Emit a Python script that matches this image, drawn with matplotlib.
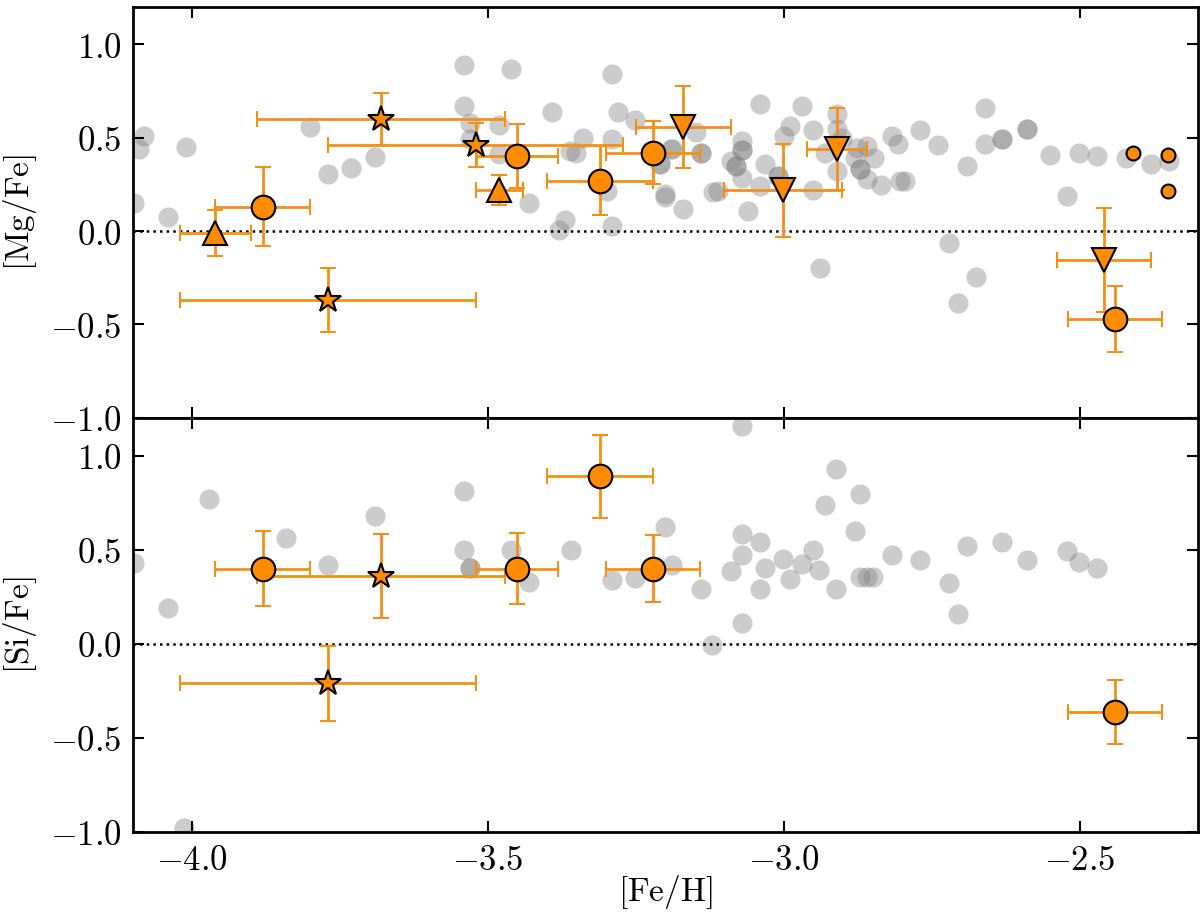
import matplotlib
matplotlib.use('Agg')
import matplotlib.pyplot as plt
from matplotlib.ticker import FuncFormatter, MultipleLocator

plt.rcParams['mathtext.fontset'] = 'cm'
plt.rcParams['font.family'] = 'serif'
plt.rcParams['font.serif'] = ['DejaVu Serif']

# comparison sample (grey), [Mg/Fe]
mg_ref_feh = [-3.541, -3.461, -3.291, -3.541, -3.391, -3.281, -3.801, -3.531, -3.481, -3.251,
              -4.081, -4.090, -4.011, -3.531, -3.340, -3.291, -3.481, -3.361, -3.352, -3.189,
              -3.210, -3.691, -3.731, -3.771, -3.299, -3.201, -3.201, -3.171, -4.098, -4.041,
              -3.430, -3.370, -3.380, -3.291,
              -3.040, -2.970, -2.910, -2.990, -2.999, -2.951, -2.910, -3.149, -3.190, -3.140,
              -3.140, -3.071, -3.071, -3.071, -3.209, -3.090, -3.081, -3.081, -3.031, -3.071,
              -3.010, -3.010, -2.930, -2.901, -2.877, -2.859, -2.880, -2.847, -2.910, -2.871,
              -2.871, -2.859, -2.835, -2.803, -2.795, -2.817, -2.807, -2.770, -2.740, -2.690,
              -2.660, -2.660, -2.631, -2.631, -2.589, -2.589, -2.550, -2.501, -2.470, -2.422,
              -2.380, -2.349, -2.521, -3.060, -3.120, -3.112, -3.040, -2.951, -2.720, -2.939,
              -2.675, -2.705]
mg_ref_val = [0.888, 0.868, 0.841, 0.668, 0.638, 0.638, 0.558, 0.579, 0.567, 0.592,
              0.508, 0.437, 0.449, 0.494, 0.499, 0.490, 0.410, 0.428, 0.419, 0.437,
              0.357, 0.398, 0.339, 0.307, 0.214, 0.196, 0.180, 0.116, 0.148, 0.075,
              0.148, 0.057, 0.003, 0.027,
              0.677, 0.668, 0.624, 0.561, 0.508, 0.538, 0.547, 0.529, 0.437, 0.419,
              0.419, 0.481, 0.431, 0.431, 0.357, 0.374, 0.348, 0.348, 0.357, 0.285,
              0.294, 0.294, 0.419, 0.499, 0.445, 0.455, 0.392, 0.389, 0.321, 0.330,
              0.330, 0.276, 0.246, 0.267, 0.267, 0.508, 0.467, 0.538, 0.458, 0.348,
              0.659, 0.467, 0.490, 0.490, 0.544, 0.544, 0.406, 0.415, 0.401, 0.392,
              0.357, 0.374, 0.187, 0.107, 0.210, 0.212, 0.241, 0.217, -0.062, -0.196,
              -0.246, -0.387]

# comparison sample (grey), [Si/Fe]
si_ref_feh = [-3.971, -4.041, -3.841, -3.771, -3.691, -3.541, -3.541, -3.531, -3.531, -3.461,
              -3.430, -3.360, -3.291, -3.251, -3.200, -3.189, -4.098, -4.013,
              -3.071, -2.911, -2.871, -2.930, -2.880, -3.071, -3.041, -3.071, -3.090, -3.140,
              -3.031, -3.041, -3.001, -2.990, -2.970, -2.951, -2.940, -2.911, -2.871, -2.859,
              -2.850, -2.817, -2.770, -2.720, -2.705, -2.690, -2.631, -2.589, -2.521, -2.501,
              -2.470, -3.071, -3.121]
si_ref_val = [0.770, 0.190, 0.562, 0.420, 0.681, 0.810, 0.500, 0.403, 0.403, 0.500,
              0.331, 0.500, 0.340, 0.349, 0.621, 0.420, 0.429, -0.980,
              1.156, 0.931, 0.798, 0.739, 0.601, 0.583, 0.541, 0.473, 0.385, 0.293,
              0.403, 0.293, 0.452, 0.344, 0.424, 0.500, 0.394, 0.293, 0.353, 0.353,
              0.353, 0.473, 0.443, 0.323, 0.160, 0.521, 0.541, 0.443, 0.495, 0.435,
              0.403, 0.110, -0.005]

# [Mg/Fe] program stars, grouped by symbol
mg_circ_feh = [-3.881, -3.451, -3.311, -3.221, -2.440]
mg_circ_val = [0.13, 0.40, 0.27, 0.42, -0.47]
mg_circ_xerr = [0.08, 0.07, 0.09, 0.08, 0.08]
mg_circ_yerr = [0.21, 0.17, 0.185, 0.17, 0.175]

mg_star_feh = [-3.681, -3.771, -3.521]
mg_star_val = [0.60, -0.37, 0.46]
mg_star_xerr = [0.21, 0.25, 0.25]
mg_star_yerr = [0.14, 0.17, 0.12]

mg_up_feh = [-3.961, -3.481]
mg_up_val = [-0.01, 0.22]
mg_up_xerr = [0.06, 0.04]
mg_up_yerr = [0.125, 0.08]

mg_down_feh = [-3.170, -3.001, -2.910, -2.459]
mg_down_val = [0.556, 0.217, 0.44, -0.155]
mg_down_xerr = [0.08, 0.10, 0.05, 0.08]
mg_down_yerr = [0.22, 0.25, 0.22, 0.28]

mg_small_feh = [-2.410, -2.350, -2.350]
mg_small_val = [0.415, 0.406, 0.214]

# [Si/Fe] program stars
si_circ_feh = [-3.881, -3.451, -3.311, -3.221, -2.440]
si_circ_val = [0.40, 0.40, 0.89, 0.40, -0.365]
si_circ_xerr = [0.08, 0.07, 0.09, 0.08, 0.08]
si_circ_yerr = [0.20, 0.19, 0.22, 0.18, 0.17]

si_star_feh = [-3.681, -3.771]
si_star_val = [0.36, -0.21]
si_star_xerr = [0.21, 0.25]
si_star_yerr = [0.225, 0.20]

orange = '#ff8c00'
bar_orange = '#f39017'
err_kw = dict(ecolor=bar_orange, elinewidth=2, capsize=6, capthick=2,
              mfc=orange, mec='black', mew=1.5, ls='none', zorder=3)

fig = plt.figure(figsize=(12, 9.17), dpi=100)
ax_top = fig.add_axes([0.1108, 0.5442, 0.8875, 0.4485])
ax_bot = fig.add_axes([0.1108, 0.0927, 0.8875, 0.4515], sharex=ax_top)

ax_top.plot(mg_ref_feh, mg_ref_val, 'o', ms=14.5, color='gray', alpha=0.4, mec='none', zorder=1)
ax_bot.plot(si_ref_feh, si_ref_val, 'o', ms=14.5, color='gray', alpha=0.4, mec='none', zorder=1)

ax_top.errorbar(mg_circ_feh, mg_circ_val, xerr=mg_circ_xerr, yerr=mg_circ_yerr,
                marker='o', ms=17, **err_kw)
ax_top.errorbar(mg_star_feh, mg_star_val, xerr=mg_star_xerr, yerr=mg_star_yerr,
                marker='*', ms=19, **err_kw)
ax_top.errorbar(mg_up_feh, mg_up_val, xerr=mg_up_xerr, yerr=mg_up_yerr,
                marker='^', ms=17, **err_kw)
ax_top.errorbar(mg_down_feh, mg_down_val, xerr=mg_down_xerr, yerr=mg_down_yerr,
                marker='v', ms=17, **err_kw)
ax_top.plot(mg_small_feh, mg_small_val, 'o', ms=10, mfc=orange, mec='black', mew=1.5, zorder=3)

ax_bot.errorbar(si_circ_feh, si_circ_val, xerr=si_circ_xerr, yerr=si_circ_yerr,
                marker='o', ms=17, **err_kw)
ax_bot.errorbar(si_star_feh, si_star_val, xerr=si_star_xerr, yerr=si_star_yerr,
                marker='*', ms=19, **err_kw)

math_fmt = FuncFormatter(lambda v, pos: r'$%.1f$' % v if abs(v) > 1e-9 else r'$0.0$')

for ax in (ax_top, ax_bot):
    ax.axhline(0, color='black', ls=':', lw=1.8, zorder=2)
    ax.set_xlim(-4.1, -2.3)
    ax.set_ylim(-1.0, 1.2)
    ax.xaxis.set_major_locator(MultipleLocator(0.5))
    ax.yaxis.set_major_locator(MultipleLocator(0.5))
    ax.xaxis.set_major_formatter(math_fmt)
    ax.yaxis.set_major_formatter(math_fmt)
    ax.tick_params(direction='in', top=True, right=True, length=8, width=1.5,
                   labelsize=25, pad=8)
    for sp in ax.spines.values():
        sp.set_linewidth(2)

ax_top.tick_params(labelbottom=False)
ax_top.set_ylabel(r'$\mathrm{[Mg/Fe]}$', fontsize=24)
ax_bot.set_ylabel(r'$\mathrm{[Si/Fe]}$', fontsize=24)
ax_bot.set_xlabel(r'$\mathrm{[Fe/H]}$', fontsize=24)
ax_top.yaxis.set_label_coords(-0.088, 0.5)
ax_bot.yaxis.set_label_coords(-0.088, 0.5)
ax_bot.xaxis.set_label_coords(0.5, -0.1)

fig.savefig('out.png', dpi=100)
